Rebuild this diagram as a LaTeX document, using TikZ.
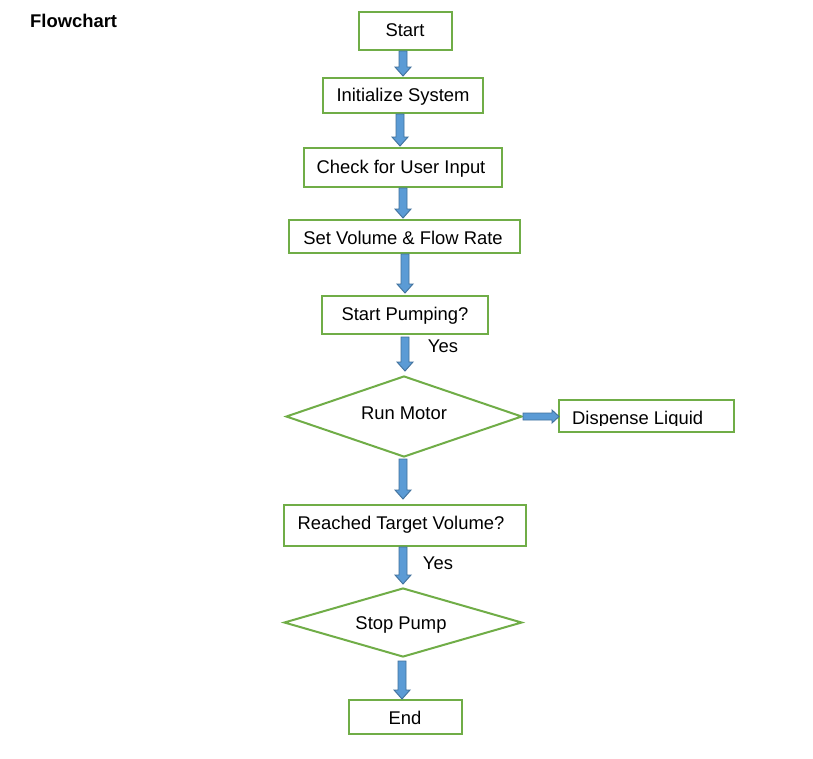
\documentclass[tikz,border=0pt]{standalone}
\usepackage{fontspec}
\setmainfont{Liberation Sans}
\usetikzlibrary{shapes.geometric,calc}
\definecolor{grn}{HTML}{70AD47}
\definecolor{arfill}{HTML}{5B9BD5}
\definecolor{ardk}{HTML}{41719C}
\tikzset{
  box/.style={draw=grn, line width=2pt, fill=white, inner sep=0pt, font=\fontsize{18.4}{22}\selectfont},
  dia/.style={diamond, draw=grn, line width=2pt, fill=white, inner sep=0pt, font=\fontsize{18.4}{22}\selectfont},
  lbl/.style={font=\fontsize{18.4}{22}\selectfont, inner sep=0pt},
  downarrow/.style={draw=ardk, fill=arfill, line width=0.9pt, line join=miter,
    to path={let \p1=(\tikztostart), \p2=(\tikztotarget) in
      (\x1-4pt,\y1) -- (\x1-4pt,\y2+9pt) -- (\x1-8pt,\y2+9pt) -- (\x1,\y2) -- (\x1+8pt,\y2+9pt) -- (\x1+4pt,\y2+9pt) -- (\x1+4pt,\y1) -- cycle}},
  rightarrow/.style={draw=ardk, fill=arfill, line width=0.9pt, line join=miter,
    to path={let \p1=(\tikztostart), \p2=(\tikztotarget) in
      (\x1,\y1+3.5pt) -- (\x2-7pt,\y1+3.5pt) -- (\x2-7pt,\y1+6.5pt) -- (\x2,\y1) -- (\x2-7pt,\y1-6.5pt) -- (\x2-7pt,\y1-3.5pt) -- (\x1,\y1-3.5pt) -- cycle}}
}
\begin{document}
\begin{tikzpicture}[x=1pt,y=-1pt]
\useasboundingbox[fill=white] (0,0) rectangle (813,758);
\node[font=\fontsize{18.4}{22}\selectfont\bfseries, anchor=west, inner sep=0pt] (title) at (30,21) {Flowchart};

\node[box, minimum width=93pt, minimum height=38pt] (start) at (405.5,31) {};
\node[lbl] (starttxt) at (405,30.5) {Start};
\node[box, minimum width=160pt, minimum height=35pt] (init) at (403,95.5) {};
\node[lbl] (inittxt) at (403,96.5) {Initialize System};
\node[box, minimum width=198pt, minimum height=39pt] (check) at (403,167.5) {};
\node[lbl] (checktxt) at (401,169) {Check for User Input};
\node[box, minimum width=231pt, minimum height=33pt] (setvol) at (404.5,236.5) {};
\node[lbl] (setvoltxt) at (403,238) {Set Volume \& Flow Rate};
\node[box, minimum width=166pt, minimum height=38pt] (spump) at (405,315) {};
\node[lbl] (spumptxt) at (405,315.5) {Start Pumping?};
\node[dia, minimum width=236pt, minimum height=81pt] (motor) at (404,416.5) {};
\node[lbl] (motortxt) at (404,413.5) {Run Motor};
\node[box, minimum width=175pt, minimum height=32pt] (disp) at (646.5,416) {};
\begin{scope}
  \clip (559,400) rectangle (734,425);
  \node[lbl, anchor=base west] (disptxt) at (572,424) {Dispense Liquid};
\end{scope}
\node[box, minimum width=242pt, minimum height=41pt] (reach) at (405,525.5) {};
\node[lbl] (reachtxt) at (401,525) {Reached Target Volume?};
\node[dia, minimum width=238pt, minimum height=69pt] (stop) at (403,622.5) {};
\node[lbl] (stoptxt) at (401,625) {Stop Pump};
\node[box, minimum width=113pt, minimum height=34pt] (endn) at (405.5,717) {};
\node[lbl] (endtxt) at (405,718) {End};

\node[lbl] (yes1) at (443,346) {Yes};
\node[lbl] (yes2) at (438,563) {Yes};

\path ([xshift=-2.5pt]start.south) edge[downarrow] ([yshift=1pt]init.north);
\path ([xshift=-3pt]init.south) edge[downarrow] ([yshift=1pt]check.north);
\path (check.south) edge[downarrow] ([yshift=1pt]setvol.north);
\path ([xshift=0.5pt]setvol.south) edge[downarrow] ([yshift=2pt]spump.north);
\path ([yshift=-2pt]spump.south) edge[downarrow] ([yshift=4pt]motor.north);
\path ([xshift=-1pt,yshift=-1pt]motor.south) edge[downarrow] ([yshift=5pt]reach.north);
\path ([xshift=-2pt]reach.south) edge[downarrow] ([yshift=3pt]stop.north);
\path ([xshift=-1pt,yshift=-3pt]stop.south) edge[downarrow] (endn.north);
\path (motor.east) edge[rightarrow] ([xshift=1pt]disp.west);
\end{tikzpicture}
\end{document}
